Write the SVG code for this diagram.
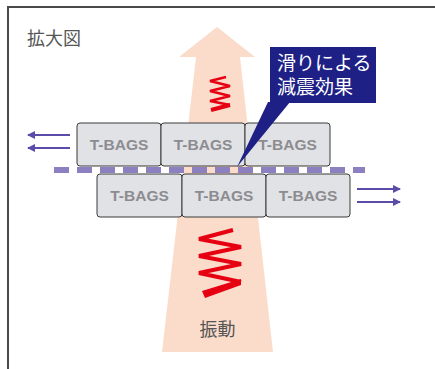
<svg xmlns="http://www.w3.org/2000/svg" width="435" height="369" viewBox="0 0 435 369">
<defs>
<style>
.lbl{font-family:"Liberation Sans","Noto Sans CJK JP",sans-serif;}
.bag rect{fill:#E1E2E6;stroke:#3A3A3A;stroke-width:1;}
.bag text{font-family:"Liberation Sans",Arial,sans-serif;font-weight:bold;font-size:15.5px;fill:#8C8C90;text-anchor:middle;}
.mv{stroke:#5A4CA8;stroke-width:2;fill:none;}
.zig{fill:none;stroke:#E60012;stroke-linejoin:miter;stroke-linecap:butt;}
</style>
<marker id="ah" viewBox="0 0 8 8" refX="7" refY="4" markerWidth="8" markerHeight="8" markerUnits="userSpaceOnUse" orient="auto">
<path d="M0,0 L8,4 L0,8 Z" fill="#5A4CA8"/>
</marker>
</defs>
<rect width="435" height="369" fill="#FFFFFF"/>
<g id="frame">
<path d="M8,369 V7 H435" fill="none" stroke="#4A4A4A" stroke-width="2"/>
<text class="lbl" x="27" y="45" font-size="18" fill="#555555">拡大図</text>
</g>
<g id="vibration-arrow">
<polygon points="217,27 255,57 240,57 273,352 162,352 196,57 179,57" fill="#FBDCCB"/>
<polyline class="zig" stroke-width="2.5" points="226,77 210,81 230,86 210,91 230,96 210,101 230,105"/>
<line class="zig" stroke-width="4" x1="230" y1="105" x2="211" y2="110"/>
<polyline class="zig" stroke-width="4" points="233,230 199,239 241,247 199,256 241,264 199,273 241,282"/>
<polygon points="241,279 241,285 205,298 202,291" fill="#E60012"/>
<text class="lbl" x="217.5" y="336" font-size="18" fill="#555555" text-anchor="middle">振動</text>
</g>
<g id="top-row">
<g id="bag-t1" class="bag"><rect x="77" y="123" width="84" height="43" rx="3"/><text x="119" y="150">T-BAGS</text></g>
<g id="bag-t2" class="bag"><rect x="161" y="123" width="84" height="43" rx="3"/><text x="203" y="150">T-BAGS</text></g>
<g id="bag-t3" class="bag"><rect x="245" y="123" width="85" height="43" rx="3"/><text x="287.5" y="150">T-BAGS</text></g>
</g>
<g id="bottom-row">
<g id="bag-b1" class="bag"><rect x="97" y="174" width="85" height="43" rx="3"/><text x="139.5" y="201">T-BAGS</text></g>
<g id="bag-b2" class="bag"><rect x="182" y="174" width="84" height="43" rx="3"/><text x="224" y="201">T-BAGS</text></g>
<g id="bag-b3" class="bag"><rect x="266" y="174" width="84" height="43" rx="3"/><text x="308" y="201">T-BAGS</text></g>
</g>
<g id="slip-plane">
<line x1="54" y1="170" x2="365" y2="170" stroke="#8C80C0" stroke-width="6" stroke-dasharray="15 8"/>
</g>
<g id="connectors">
<line class="mv" x1="70" y1="135" x2="28" y2="135" marker-end="url(#ah)"/>
<line class="mv" x1="70" y1="148" x2="28" y2="148" marker-end="url(#ah)"/>
<line class="mv" x1="357" y1="189" x2="400" y2="189" marker-end="url(#ah)"/>
<line class="mv" x1="357" y1="202" x2="400" y2="202" marker-end="url(#ah)"/>
</g>
<g id="callout">
<polygon points="268,102 290,102 237,167" fill="#1E2086"/>
<rect x="270" y="47" width="106" height="56" fill="#1E2086"/>
<text class="lbl" x="277" y="70" font-size="19" fill="#FFFFFF">滑りによる</text>
<text class="lbl" x="277" y="94" font-size="19" fill="#FFFFFF">減震効果</text>
</g>
</svg>
